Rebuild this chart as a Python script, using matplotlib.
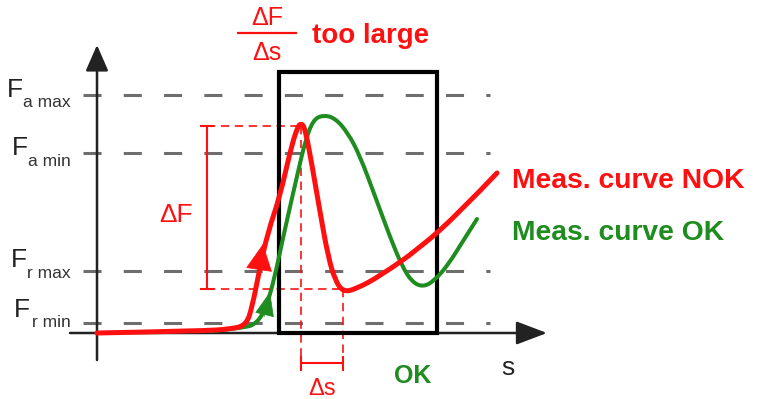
import matplotlib
matplotlib.use("Agg")
import matplotlib.pyplot as plt
from matplotlib.patches import Rectangle, PathPatch
from matplotlib.path import Path

plt.rcParams['font.family'] = ['Liberation Sans', 'DejaVu Sans']
plt.rcParams['lines.scale_dashes'] = False

# drawing works in picture pixels (x right, y down)
RED = '#ff1010'
GREEN = '#1e8c1e'
GRAY = '#6e6e6e'
INK = '#222222'

# force limit levels
level_names = ['a max', 'a min', 'r max', 'r min']
level_y = [95, 153, 271, 323]
f_left = [7, 12, 11, 14]
f_base = [97, 155, 267, 317]
sub_base = [107, 166, 278, 327]

# evaluation window (s from..to, F from..to)
box_s = (279, 437)
box_f = (333, 72)

# curve control points
red_s = [97, 200, 232, 246, 252, 260, 268, 280, 290, 297, 301, 305, 312, 320, 328, 335,
         343, 356, 380, 420, 460, 497]
red_f = [333, 331, 329, 325, 308, 267, 232, 196, 152, 128, 123, 128, 165, 212, 256, 280,
         292, 289, 276, 248, 212, 173]

green_s = [210, 245, 257, 266, 274, 283, 292, 298, 305, 313, 323, 335, 348, 360, 375, 390,
           402, 412, 423, 434, 448, 463, 477]
green_f = [331, 328, 323, 308, 280, 238, 198, 172, 142, 120, 115, 118, 133, 156, 196, 237,
           266, 282, 287, 281, 265, 241, 219]

# direction arrows on the curves (tail -> tip)
red_arrow = ((259, 270), (263, 244))
green_arrow = ((264, 317), (270, 292))

# gradient markers
peak = (301, 126)
valley = (343, 289)
dF_x = 207
ds_y = 363


def smooth_path(xs, ys):
    # quadratic B-spline through the control polygon
    verts = [(xs[0], ys[0])]
    codes = [Path.MOVETO]
    n = len(xs)
    for i in range(1, n - 1):
        if i == n - 2:
            end = (xs[-1], ys[-1])
        else:
            end = ((xs[i] + xs[i + 1]) / 2, (ys[i] + ys[i + 1]) / 2)
        verts += [(xs[i], ys[i]), end]
        codes += [Path.CURVE3, Path.CURVE3]
    return Path(verts, codes)


fig = plt.figure(figsize=(7.57, 3.99), dpi=100)
ax = fig.add_axes([0, 0, 1, 1])
ax.set_xlim(0, 757)
ax.set_ylim(399, 0)
ax.axis('off')

# limit lines
ax.hlines(level_y, 83, 490, colors=GRAY, linewidth=2.2, linestyles=(0, (13, 16)), zorder=1)
for name, fl, fb, sb in zip(level_names, f_left, f_base, sub_base):
    ax.text(fl, fb, 'F', fontsize=19, color=INK, ha='left', va='baseline')
    ax.text(71, sb, name, fontsize=12.5, color='#333333', ha='right', va='baseline')

# axes with arrows
ax.annotate('', xy=(97, 45), xytext=(97, 360),
            arrowprops=dict(arrowstyle='-|>,head_length=1.6,head_width=0.7', mutation_scale=10,
                            lw=1.8, color=INK, shrinkA=0, shrinkB=0), zorder=2)
ax.annotate('', xy=(547, 333), xytext=(70, 333),
            arrowprops=dict(arrowstyle='-|>,head_length=1.9,head_width=0.72', mutation_scale=10,
                            lw=1.8, color=INK, shrinkA=0, shrinkB=0), zorder=2)
ax.text(508, 375, 's', fontsize=19, color=INK, ha='center', va='baseline')

# window
ax.add_patch(Rectangle((box_s[0], box_f[1]), box_s[1] - box_s[0], box_f[0] - box_f[1],
                       fill=False, edgecolor='black', linewidth=3, zorder=3))

# red helper lines for the gradient
ax.hlines([peak[1], valley[1]], dF_x, [peak[0], valley[0]], colors=RED, linewidth=1.2,
          linestyles=(0, (6, 4)), zorder=2)
ax.vlines([peak[0], valley[0]], [peak[1], valley[1]], ds_y - 7, colors=RED, linewidth=1.2,
          linestyles=(0, (6, 4)), zorder=2)
ax.vlines(dF_x, peak[1], valley[1], colors=RED, linewidth=1.5, zorder=2)
ax.hlines([peak[1], valley[1]], dF_x - 7, dF_x + 7, colors=RED, linewidth=1.5, zorder=2)
ax.hlines(ds_y, peak[0], valley[0], colors=RED, linewidth=1.5, zorder=2)
ax.vlines([peak[0], valley[0]], ds_y - 7, ds_y + 8, colors=RED, linewidth=1.5, zorder=2)
ax.text(176, 222, 'ΔF', fontsize=19, color=RED, ha='center', va='baseline')
ax.text(322, 395, 'Δs', fontsize=17, color=RED, ha='center', va='baseline')

# curves
ax.add_patch(PathPatch(smooth_path(green_s, green_f), fill=False, edgecolor=GREEN,
                       linewidth=2.9, capstyle='round', joinstyle='round', zorder=4))
ax.add_patch(PathPatch(smooth_path(red_s, red_f), fill=False, edgecolor=RED,
                       linewidth=3.6, capstyle='round', joinstyle='round', zorder=5))
ax.annotate('', xy=green_arrow[1], xytext=green_arrow[0],
            arrowprops=dict(arrowstyle='-|>,head_length=1.6,head_width=0.65', mutation_scale=10,
                            lw=0.5, color=GREEN, shrinkA=0, shrinkB=0), zorder=4)
ax.annotate('', xy=red_arrow[1], xytext=red_arrow[0],
            arrowprops=dict(arrowstyle='-|>,head_length=1.8,head_width=0.9', mutation_scale=10,
                            lw=0.5, color=RED, shrinkA=0, shrinkB=0), zorder=5)

# labels
ax.text(267, 25, 'ΔF', fontsize=18, color=RED, ha='center', va='baseline')
ax.hlines(33, 237, 297, colors=RED, linewidth=1.6)
ax.text(267, 60, 'Δs', fontsize=18, color=RED, ha='center', va='baseline')
ax.text(312, 43, 'too large', fontsize=20, fontweight='bold', color=RED, ha='left', va='baseline')
ax.text(512, 188, 'Meas. curve NOK', fontsize=20.3, fontweight='bold', color=RED,
        ha='left', va='baseline')
ax.text(512, 240, 'Meas. curve OK', fontsize=20.3, fontweight='bold', color=GREEN,
        ha='left', va='baseline')
ax.text(413, 383, 'OK', fontsize=18, fontweight='bold', color=GREEN, ha='center', va='baseline')

fig.savefig('out.png', dpi=100)
